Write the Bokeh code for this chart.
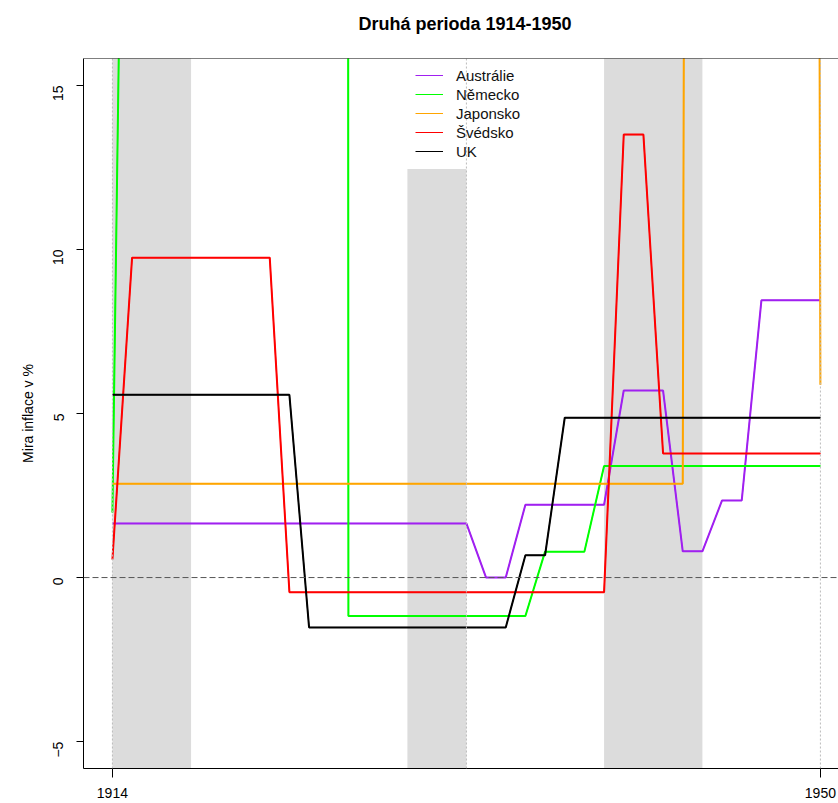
from bokeh.plotting import figure
from bokeh.models import Range1d, FixedTicker, Span, Legend, LegendItem, Title
from bokeh.embed import file_html
from bokeh.resources import INLINE
import math

years = list(range(1914, 1951))

australia = [1.65, 1.65, 1.65, 1.65, 1.65, 1.65, 1.65, 1.65, 1.65, 1.65,
             1.65, 1.65, 1.65, 1.65, 1.65, 1.65, 1.65, 1.65, 1.65, 0.0,
             0.0, 2.22, 2.22, 2.22, 2.22, 2.22, 5.70, 5.70, 5.70, 0.80,
             0.80, 2.35, 2.35, 8.45, 8.45, 8.45, 8.45]
germany = [1.98, 45.0, 1500.0, 1500.0, 1500.0, 1500.0, 1500.0, 1500.0, 1500.0, 1500.0,
           1500.0, 1500.0, -1.17, -1.17, -1.17, -1.17, -1.17, -1.17, -1.17, -1.17,
           -1.17, -1.17, 0.79, 0.79, 0.79, 3.40, 3.40, 3.40, 3.40, 3.40,
           3.40, 3.40, 3.40, 3.40, 3.40, 3.40, 3.40]
japan = [2.86, 2.86, 2.86, 2.86, 2.86, 2.86, 2.86, 2.86, 2.86, 2.86,
         2.86, 2.86, 2.86, 2.86, 2.86, 2.86, 2.86, 2.86, 2.86, 2.86,
         2.86, 2.86, 2.86, 2.86, 2.86, 2.86, 2.86, 2.86, 2.86, 2.86,
         250.0, 250.0, 250.0, 250.0, 250.0, 250.0, 5.88]
sweden = [0.55, 9.75, 9.75, 9.75, 9.75, 9.75, 9.75, 9.75, 9.75, -0.45,
          -0.45, -0.45, -0.45, -0.45, -0.45, -0.45, -0.45, -0.45, -0.45, -0.45,
          -0.45, -0.45, -0.45, -0.45, -0.45, -0.45, 13.5, 13.5, 3.78, 3.78,
          3.78, 3.78, 3.78, 3.78, 3.78, 3.78, 3.78]
uk = [5.57, 5.57, 5.57, 5.57, 5.57, 5.57, 5.57, 5.57, 5.57, 5.57,
      -1.52, -1.52, -1.52, -1.52, -1.52, -1.52, -1.52, -1.52, -1.52, -1.52,
      -1.52, 0.68, 0.68, 4.87, 4.87, 4.87, 4.87, 4.87, 4.87, 4.87,
      4.87, 4.87, 4.87, 4.87, 4.87, 4.87, 4.87]

series_names = ["Austrálie", "Německo", "Japonsko", "Švédsko", "UK"]
series_values = [australia, germany, japan, sweden, uk]
series_colors = ["#A020F0", "#00FF00", "#FFA500", "#FF0000", "#000000"]

band_start = [1914, 1929, 1939]
band_end = [1918, 1932, 1944]
band_top = [100.0, 12.45, 100.0]
band_bottom = [-100.0, -100.0, -100.0]

boundary_years = [1914, 1932, 1950]
x_ticks = [1914, 1950]
y_ticks = [-5, 0, 5, 10, 15]

title_text = "Druhá perioda 1914-1950"
y_label = "Mira inflace v %"

FONT = "Liberation Sans"

p = figure(width=838, height=803, output_backend="svg", toolbar_location=None,
           x_range=Range1d(1912.53, 1950.92), y_range=Range1d(-5.82, 15.82),
           min_border_left=83, min_border_right=0, min_border_top=58, min_border_bottom=35)
p.background_fill_color = "white"
p.border_fill_color = "white"
p.outline_line_color = None
p.xgrid.visible = False
p.ygrid.visible = False

# spacer between title and frame
p.add_layout(Title(text=" ", text_font=FONT, text_font_size="12px", standoff=0), "above")

p.title.text = title_text
p.title.align = "left"
p.title.offset = 275
p.title.text_font = FONT
p.title.text_font_size = "18px"
p.title.text_font_style = "bold"
p.title.text_color = "black"
p.title.standoff = 18

# grey bands
p.quad(left=band_start, right=band_end, bottom=band_bottom, top=band_top,
       fill_color="#DCDCDC", line_color=None)

for by in boundary_years:
    p.add_layout(Span(location=by, dimension="height", line_color="#BBBBBB",
                      line_dash="2 2", line_width=1))

p.add_layout(Span(location=0, dimension="width", line_color="#555555",
                  line_dash="6 3", line_width=1))

# thin copies (used for the legend), covered by the thick lines
items = []
for name, vals, col in zip(series_names, series_values, series_colors):
    r = p.line(years, vals, line_color=col, line_width=1)
    items.append(LegendItem(label=name, renderers=[r]))

for name, vals, col in zip(series_names, series_values, series_colors):
    p.line(years, vals, line_color=col, line_width=2)

legend = Legend(items=items, location=(332, 608), border_line_color=None,
                background_fill_alpha=0, padding=5, spacing=1,
                glyph_width=28, glyph_height=18, label_height=18,
                label_standoff=13, label_text_font=FONT,
                label_text_font_size="15px", label_text_color="#111111",
                margin=0)
p.add_layout(legend, "center")

# top border line
p.add_layout(Span(location=15.82, dimension="width", line_color="black", line_width=1))

# axes
xa = p.xaxis[0]
xa.ticker = FixedTicker(ticks=x_ticks)
xa.major_tick_out = 9
xa.major_tick_in = 0
xa.minor_tick_out = 0
xa.minor_tick_in = 0
xa.major_label_standoff = 10
xa.major_label_text_font = FONT
xa.major_label_text_font_size = "14px"
xa.major_label_text_color = "black"
xa.axis_line_color = "black"

ya = p.yaxis[0]
ya.ticker = FixedTicker(ticks=y_ticks)
ya.major_tick_out = 7
ya.major_tick_in = 0
ya.minor_tick_out = 0
ya.minor_tick_in = 0
ya.major_label_orientation = math.pi / 2
ya.major_label_standoff = 18
ya.major_label_text_font = FONT
ya.major_label_text_font_size = "14px"
ya.major_label_text_color = "black"
ya.axis_line_color = "black"
ya.axis_label = y_label
ya.axis_label_text_font = FONT
ya.axis_label_text_font_size = "14px"
ya.axis_label_text_font_style = "normal"
ya.axis_label_text_color = "black"
ya.axis_label_standoff = 10

open("out.html", "w").write(file_html(p, INLINE))
